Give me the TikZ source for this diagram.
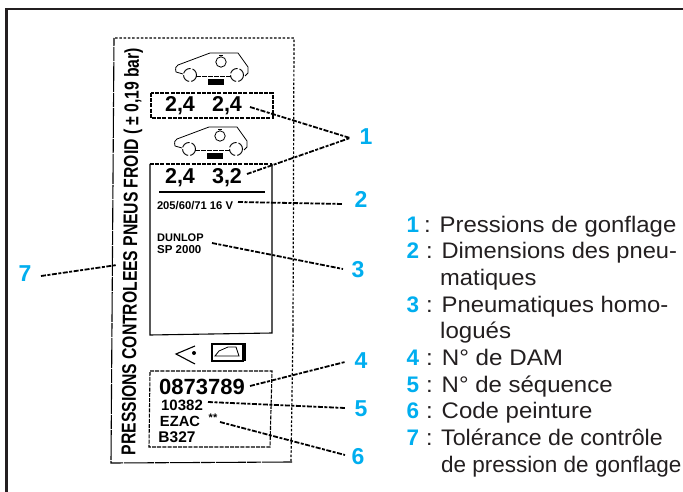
\documentclass[tikz,border=0pt]{standalone}
\usepackage{fontspec}
\setmainfont{Liberation Sans}
\definecolor{ink}{HTML}{231F20}
\definecolor{cyanlab}{HTML}{00AEEF}
\newcommand{\fsz}[1]{\fontsize{#1}{#1}\selectfont}
\newcommand{\widen}[2]{\scalebox{#1}[1]{#2}}
\tikzset{
  frameline/.style={draw=ink,line width=2.5pt},
  scan/.style={draw=black,line width=1.1pt},
  scandash/.style={draw=black,line width=1.1pt,dash pattern=on 4pt off 1.2pt},
  scandot/.style={draw=black,line width=1.2pt,dash pattern=on 2.5pt off 1.8pt},
  leader/.style={draw=black,line width=1.8pt,dash pattern=on 5pt off 1.5pt on 3pt off 1.5pt},
  callnum/.style={text=cyanlab,font=\fsz{23}\bfseries,inner sep=0pt,anchor=center},
  legnum/.style={text=cyanlab,font=\fsz{22.5}\bfseries,inner sep=0pt,anchor=base west},
  legtxt/.style={text=ink,font=\fsz{22.5},inner sep=0pt,anchor=base west},
  scantxt/.style={text=black,inner sep=0pt,font=\bfseries},
  car/.pic={
    \draw[scan,line width=.8pt] (-40,-4) .. controls (-41,-8) and (-40,-10) .. (-38,-11) -- (-6,-23) -- (22,-23) -- (32,-9) -- (32,-3) -- (29,0);
    \draw[scan,line width=.8pt,dash pattern=on 5pt off 1pt] (-20,0) -- (15,0);
    \draw[scan,line width=.9pt,dash pattern=on 9pt off 2pt] (-26,-1) circle (6.5);
    \draw[scan,line width=.9pt,dash pattern=on 9pt off 2pt] (21,-1) circle (6.5);
    \draw[scan,line width=.8pt] (-40,-4) -- (-33,-2);
    \draw[scan,line width=.8pt] (5,-14) circle (5.2);
    \draw[scan,line width=.8pt] (3,-20.5) -- (7,-20.5);
    \fill[black] (-8,3) rectangle (8,9);
  }
}
\begin{document}
\begin{tikzpicture}[x=1pt,y=-1pt]
\useasboundingbox (0,0) rectangle (683,492);
\fill[white] (0,0) rectangle (683,492);
\draw[frameline] (6.5,492) -- (6.5,9) -- (683,9);

% label outline
\draw[scandot] (115,38) -- (294,38) -- (293,330);
\draw[scandot] (293,330) -- (291,461);
\draw[scan,dash pattern=on 30pt off 1pt on 14pt off 1pt] (292,462) -- (111,463) -- (114,38);

% rotated heading
\node[scantxt,rotate=89.5] (heading) at (132,251.5) {\resizebox{407pt}{14.5pt}{PRESSIONS CONTROLEES PNEUS FROID ( ± 0,19 bar)}};

% cars
\pic at (216,76) {car};
\pic at (215,150) {car};

% box 1
\draw[scandash] (151,93) rectangle (273,118);
\node[scantxt,font=\fsz{21.5}\bfseries] (pa) at (180,106) {2,4};
\node[scantxt,font=\fsz{21.5}\bfseries] (pb) at (227,106) {2,4};

% box 2
\draw[scandash] (150,164) -- (272,164);
\draw[scan] (272,164) -- (272,333) -- (150,335) -- (150,164);
\node[scantxt,font=\fsz{21.5}\bfseries] (pc) at (180,178) {2,4};
\node[scantxt,font=\fsz{21.5}\bfseries] (pd) at (227,178) {3,2};
\draw[scan] (159,192) -- (265,192);
\node[scantxt,font=\fsz{11.2}\bfseries] (dim) at (195,206) {205/60/71 16 V};
\node[scantxt,font=\fsz{11}\bfseries,anchor=west] (dun) at (157,238) {DUNLOP};
\node[scantxt,font=\fsz{11.5}\bfseries,anchor=west] (sp) at (157,250) {SP 2000};

% symbols
\draw[scan] (195,346) -- (176,354) -- (195,364);
\fill[black] (194,353) circle (2);
\draw[scan] (212,344) rectangle (243,361);
\draw[scan,line width=.8pt] (215,356) -- (219,351) -- (228,347) -- (236,347) -- (239,356) -- cycle;
\draw[scan,line width=1.8pt] (245,343) -- (245,361);

% box 3
\draw[scandash] (150,371) -- (272,371) -- (270,447) -- (149,447) -- cycle;
\node[scantxt,font=\fsz{22}\bfseries] (dam) at (202,387) {0873789};
\node[scantxt,font=\fsz{15}\bfseries] (seq) at (182,405) {10382};
\node[scantxt,font=\fsz{14.7}\bfseries] (paint) at (180,421) {EZAC};
\node[scantxt,font=\fsz{11}\bfseries] (stars) at (213,418) {**};
\node[scantxt,font=\fsz{15.5}\bfseries] (bcode) at (177,437) {B327};

% call-out numbers
\node[callnum] (n1) at (366,137) {1};
\node[callnum] (n2) at (361,199) {2};
\node[callnum] (n3) at (358,270) {3};
\node[callnum] (n4) at (361,361) {4};
\node[callnum] (n5) at (361,409) {5};
\node[callnum] (n6) at (358,457) {6};
\node[callnum] (n7) at (25,274) {7};

% leader ends
\coordinate (t1) at (350,138);
\coordinate (a1) at (250,107);
\coordinate (b1) at (247,174);
\coordinate (a2) at (238,202);
\coordinate (t2) at (343,204);
\coordinate (a3) at (212,243);
\coordinate (t3) at (343,269);
\coordinate (a4) at (250,386);
\coordinate (t4) at (345,362);
\coordinate (a5) at (208,402);
\coordinate (t5) at (345,408);
\coordinate (a6) at (220,422);
\coordinate (t6) at (345,455);
\coordinate (t7) at (41,276);
\coordinate (a7) at (117,265);

\draw[leader] (a1) -- (t1) -- (b1);
\draw[leader] (a2) -- (t2);
\draw[leader] (a3) -- (t3);
\draw[leader] (a4) -- (t4);
\draw[leader] (a5) -- (t5);
\draw[leader] (a6) -- (t6);
\draw[leader] (t7) -- (a7);

% legend
\node[legnum] (l1) at (406.5,232) {1};
\node[legtxt] (l1t) at (424,232) {\widen{1.063}{: Pressions de gonflage}};
\node[legnum] (l2) at (406.5,258.5) {2};
\node[legtxt] (l2t) at (426,258.5) {\widen{1.052}{: Dimensions des pneu-}};
\node[legtxt] (l2u) at (440,285.5) {\widen{1.055}{matiques}};
\node[legnum] (l3) at (406.5,312) {3};
\node[legtxt] (l3t) at (426,312) {\widen{1.06}{: Pneumatiques homo-}};
\node[legtxt] (l3u) at (440,338.5) {\widen{1.07}{logués}};
\node[legnum] (l4) at (406.5,365.5) {4};
\node[legtxt] (l4t) at (426,365.5) {\widen{1.075}{: N° de DAM}};
\node[legnum] (l5) at (406.5,392) {5};
\node[legtxt] (l5t) at (426,392) {\widen{1.066}{: N° de séquence}};
\node[legnum] (l6) at (406.5,418.5) {6};
\node[legtxt] (l6t) at (426,418.5) {\widen{1.066}{: Code peinture}};
\node[legnum] (l7) at (406.5,445.5) {7};
\node[legtxt] (l7t) at (426,445.5) {\widen{1.03}{: Tolérance de contrôle}};
\node[legtxt] (l7u) at (441,472) {de pression de gonflage};
\end{tikzpicture}
\end{document}
